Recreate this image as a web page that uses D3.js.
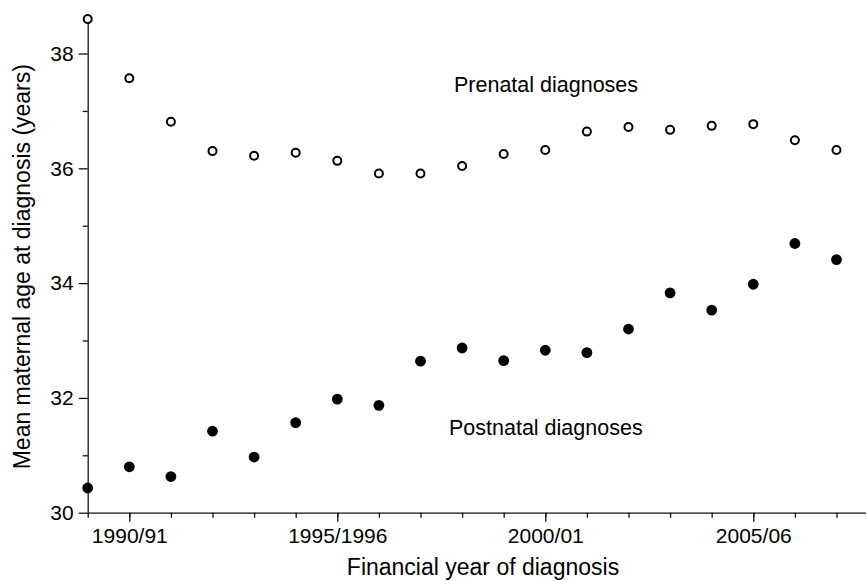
<!DOCTYPE html>
<html>
<head>
<meta charset="utf-8">
<script src="https://cdn.jsdelivr.net/npm/d3@7"></script>
<style>
    body { margin: 0; background: #fff; }
    svg { display: block; font-family: "Liberation Sans", Arial, sans-serif; }
    .axis path, .axis line { stroke: #111; stroke-width: 1.3px; }
    .axis text { font-size: 21px; fill: #000; }
</style>
</head>
<body>
<div id="chart"></div>
<script>
// Financial years, one point per year
const YEARS = ["1989/90", "1990/91", "1991/92", "1992/93", "1993/94", "1994/95",
    "1995/1996", "1996/97", "1997/98", "1998/99", "1999/00", "2000/01", "2001/02",
    "2002/03", "2003/04", "2004/05", "2005/06", "2006/07", "2007/08"];

const PRENATAL = [38.60, 37.57, 36.81, 36.30, 36.22, 36.27, 36.13, 35.91, 35.91, 36.04,
    36.25, 36.32, 36.64, 36.72, 36.67, 36.74, 36.77, 36.49, 36.32];

const POSTNATAL = [30.43, 30.80, 30.63, 31.42, 30.97, 31.57, 31.98, 31.87, 32.64, 32.87,
    32.65, 32.83, 32.79, 33.20, 33.83, 33.53, 33.98, 34.69, 34.41];

const X_LABELS = ["1990/91", "1995/1996", "2000/01", "2005/06"];
const Y_MAJOR = [30, 32, 34, 36, 38];
const Y_MINOR = [31, 33, 35, 37];

function drawChart() {
    var width = 867, height = 581;

    var svg = d3.select("#chart").append("svg")
        .attr("width", width)
        .attr("height", height);

    // x axis runs a little past the last year, to the edge of the picture
    var xAxis = d3.scaleLinear().domain([0, 18.7]).range([87.7, 865.6]);
    var yAxis = d3.scaleLinear().domain([30, 38.6]).range([512.7, 19.1]);

    var majorIdx = X_LABELS.map(function (label) { return YEARS.indexOf(label); });

    // minor ticks on x, every year
    svg.append("g")
        .attr("class", "axis")
        .attr("transform", "translate(0," + yAxis(30) + ")")
        .call(d3.axisBottom(xAxis)
            .tickValues(d3.range(YEARS.length))
            .tickSize(5).tickSizeOuter(0)
            .tickFormat(""));

    // labelled ticks on x
    var xMajor = svg.append("g")
        .attr("class", "axis")
        .attr("transform", "translate(0," + yAxis(30) + ")")
        .call(d3.axisBottom(xAxis)
            .tickValues(majorIdx)
            .tickSize(9).tickPadding(6)
            .tickFormat(function (i) { return YEARS[i]; }));
    xMajor.select(".domain").remove();

    // y axis
    svg.append("g")
        .attr("class", "axis")
        .attr("transform", "translate(" + xAxis(0) + ",0)")
        .call(d3.axisLeft(yAxis)
            .tickValues(Y_MINOR)
            .tickSize(5).tickSizeOuter(0)
            .tickFormat(""));

    var yMajor = svg.append("g")
        .attr("class", "axis")
        .attr("transform", "translate(" + xAxis(0) + ",0)")
        .call(d3.axisLeft(yAxis)
            .tickValues(Y_MAJOR)
            .tickSize(9).tickPadding(5)
            .tickFormat(d3.format("d")));
    yMajor.select(".domain").remove();

    // postnatal, filled
    svg.append("g").selectAll("circle")
        .data(POSTNATAL)
        .enter().append("circle")
        .attr("cx", function (d, i) { return xAxis(i); })
        .attr("cy", function (d) { return yAxis(d); })
        .attr("r", 5.4)
        .attr("fill", "#000");

    // prenatal, open
    svg.append("g").selectAll("circle")
        .data(PRENATAL)
        .enter().append("circle")
        .attr("cx", function (d, i) { return xAxis(i); })
        .attr("cy", function (d) { return yAxis(d); })
        .attr("r", 4)
        .attr("fill", "#fff")
        .attr("stroke", "#000")
        .attr("stroke-width", 2);

    // series labels
    svg.append("text")
        .attr("x", 454).attr("y", 91.7)
        .attr("font-size", "21.5px").attr("fill", "#000")
        .text("Prenatal diagnoses");

    svg.append("text")
        .attr("x", 449).attr("y", 435)
        .attr("font-size", "21.5px").attr("fill", "#000")
        .text("Postnatal diagnoses");

    // axis titles
    svg.append("text")
        .attr("x", 483).attr("y", 575)
        .attr("text-anchor", "middle")
        .attr("font-size", "23px").attr("fill", "#000")
        .text("Financial year of diagnosis");

    svg.append("text")
        .attr("transform", "translate(30,266.7) rotate(-90)")
        .attr("text-anchor", "middle")
        .attr("font-size", "23px").attr("fill", "#000")
        .text("Mean maternal age at diagnosis (years)");
}

drawChart();
</script>
</body>
</html>
